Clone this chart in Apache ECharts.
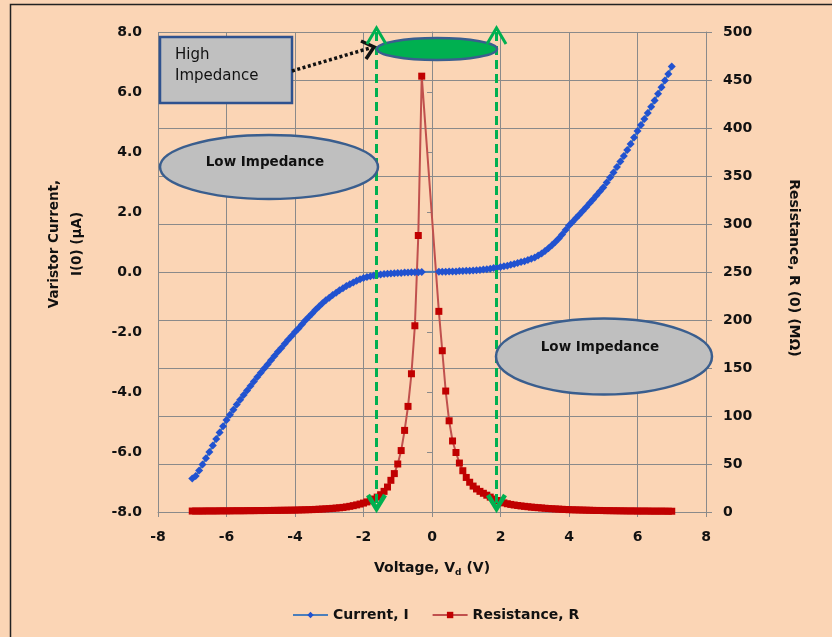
<!DOCTYPE html>
<html><head><meta charset="utf-8">
<script src="https://cdn.jsdelivr.net/npm/echarts@6/dist/echarts.min.js"></script>
<style>html,body{margin:0;padding:0;background:#FBD5B5}#c{width:832px;height:637px}</style>
</head><body><div id="c"></div>
<script>
const voltage = [
-7.0,-6.9,-6.8,-6.7,-6.6,-6.5,-6.4,-6.3,-6.2,-6.1,-6.0,-5.9,-5.8,-5.7,-5.6,-5.5,-5.4,-5.3,-5.2,-5.1,
-5.0,-4.9,-4.8,-4.7,-4.6,-4.5,-4.4,-4.3,-4.2,-4.1,-4.0,-3.9,-3.8,-3.7,-3.6,-3.5,-3.4,-3.3,-3.2,-3.1,
-3.0,-2.9,-2.8,-2.7,-2.6,-2.5,-2.4,-2.3,-2.2,-2.1,-2.0,-1.9,-1.8,-1.7,-1.6,-1.5,-1.4,-1.3,-1.2,-1.1,
-1.0,-0.9,-0.8,-0.7,-0.6,-0.5,-0.4,-0.3,
0.2,0.3,0.4,0.5,0.6,0.7,0.8,0.9,1.0,1.1,1.2,1.3,1.4,1.5,1.6,1.7,1.8,1.9,2.0,2.1,2.2,2.3,2.4,2.5,
2.6,2.7,2.8,2.9,3.0,3.1,3.2,3.3,3.4,3.5,3.6,3.7,3.8,3.9,4.0,4.1,4.2,4.3,4.4,4.5,4.6,4.7,4.8,4.9,
5.0,5.1,5.2,5.3,5.4,5.5,5.6,5.7,5.8,5.9,6.0,6.1,6.2,6.3,6.4,6.5,6.6,6.7,6.8,6.9,7.0];
const current = [
-6.88,-6.80,-6.62,-6.42,-6.21,-6.00,-5.78,-5.57,-5.35,-5.14,-4.93,-4.76,-4.59,-4.42,-4.26,-4.10,-3.95,-3.80,-3.65,-3.50,
-3.36,-3.22,-3.08,-2.94,-2.80,-2.66,-2.53,-2.39,-2.26,-2.13,-2.00,-1.88,-1.75,-1.62,-1.50,-1.38,-1.26,-1.15,-1.04,-0.94,
-0.86,-0.77,-0.69,-0.61,-0.54,-0.47,-0.41,-0.35,-0.29,-0.24,-0.20,-0.17,-0.14,-0.12,-0.10,-0.08,-0.07,-0.06,-0.05,-0.04,
-0.03,-0.03,-0.02,-0.02,-0.01,-0.01,-0.01,0.00,
0.01,0.01,0.01,0.02,0.02,0.02,0.03,0.03,0.04,0.04,0.05,0.06,0.07,0.08,0.09,0.11,0.13,0.15,0.17,0.19,0.21,0.24,0.27,0.30,
0.33,0.36,0.40,0.44,0.48,0.55,0.62,0.70,0.79,0.89,1.00,1.12,1.25,1.40,1.55,1.67,1.79,1.91,2.03,2.16,2.29,2.42,2.55,2.68,
2.82,2.98,3.15,3.32,3.50,3.68,3.87,4.07,4.27,4.48,4.70,4.90,5.10,5.30,5.51,5.72,5.94,6.16,6.38,6.60,6.85];
const resistance = [
1.0,1.0,1.0,1.0,1.1,1.1,1.1,1.1,1.2,1.2,1.2,1.2,1.3,1.3,1.3,1.3,1.4,1.4,1.4,1.5,
1.5,1.5,1.6,1.6,1.7,1.7,1.8,1.8,1.9,1.9,2.0,2.1,2.2,2.3,2.4,2.5,2.7,2.9,3.1,3.3,
3.5,3.8,4.1,4.4,4.8,5.3,5.9,6.6,7.4,8.3,9.3,10.5,11.8,13.5,15.5,18,21.5,26,33,40,
50,64,85,110,144,194,288,454,
209,168,126,95,74,62,51,43,36,31,27,24,21.5,19.5,17.5,15.5,13.5,12,10.5,9.5,8.6,7.9,7.3,6.8,
6.3,5.9,5.5,5.1,4.8,4.5,4.2,3.9,3.6,3.4,3.2,3.0,2.8,2.6,2.4,2.3,2.2,2.1,2.0,1.9,1.8,1.7,1.6,1.6,
1.5,1.4,1.4,1.3,1.3,1.2,1.2,1.1,1.1,1.1,1.0,1.0,1.0,1.0,0.9,0.9,0.9,0.9,0.9,0.8,0.8];

const FONT = 'DejaVu Sans';
const GRID = '#8A8A8A';
const lbl = {fontFamily: FONT, fontWeight: 'bold', fontSize: 14, color: '#111'};

const chart = echarts.init(document.getElementById('c'), null, {renderer: 'canvas'});
const green = '#00B050';
const ellStroke = '#3A5E8E';

function gline(x) {
  return [
    {type: 'line', z: 100, shape: {x1: x, y1: 32, x2: x, y2: 506}, style: {stroke: green, lineWidth: 3, lineDash: [9, 5]}},
    {type: 'polyline', z: 102, shape: {points: [[x - 9.5, 44], [x, 28], [x + 9.5, 44]]}, style: {stroke: green, lineWidth: 3, fill: null}},
    {type: 'polyline', z: 102, shape: {points: [[x - 8.5, 495], [x, 509], [x + 8.5, 495]]}, style: {stroke: green, lineWidth: 4.5, fill: null}}
  ];
}

chart.setOption({
  animation: false,
  backgroundColor: '#FBD5B5',
  grid: {left: 158, right: 126, top: 32, bottom: 125, containLabel: false},
  legend: {
    left: 287, top: 603, itemWidth: 35, itemHeight: 8, itemGap: 23,
    textStyle: {fontFamily: FONT, fontWeight: 'bold', fontSize: 14, color: '#111'},
    data: ['Current, I', 'Resistance, R']
  },
  xAxis: {
    type: 'value', min: -8, max: 8, interval: 2,
    axisLine: {show: true, onZero: false, lineStyle: {color: GRID, width: 1}},
    axisTick: {show: true, inside: false, length: 5, lineStyle: {color: GRID}},
    splitLine: {show: true, lineStyle: {color: GRID, width: 1}},
    axisLabel: Object.assign({margin: 18}, lbl),
    name: '{n|Voltage, V}{s|d}{n| (V)}',
    nameLocation: 'middle', nameGap: 48,
    nameTextStyle: {
      rich: {
        n: {fontFamily: FONT, fontWeight: 'bold', fontSize: 14, color: '#111'},
        s: {fontFamily: FONT, fontWeight: 'bold', fontSize: 9, color: '#111', padding: [8, 0, 0, 0]}
      }
    }
  },
  yAxis: [
    {
      type: 'value', min: -8, max: 8, interval: 2, position: 'left',
      axisLine: {show: true, lineStyle: {color: GRID}},
      axisTick: {show: true, length: 5, lineStyle: {color: GRID}},
      splitLine: {show: false},
      axisLabel: Object.assign({margin: 16, formatter: v => v.toFixed(1)}, lbl)
    },
    {
      type: 'value', min: 0, max: 500, interval: 50, position: 'right',
      axisLine: {show: true, lineStyle: {color: GRID}},
      axisTick: {show: true, length: 6, lineStyle: {color: GRID}},
      splitLine: {show: true, lineStyle: {color: GRID, width: 1}},
      axisLabel: Object.assign({margin: 17}, lbl)
    }
  ],
  series: [
    {
      name: 'Current, I', type: 'line', yAxisIndex: 0,
      data: voltage.map((v, i) => [v, current[i]]),
      symbol: 'diamond', symbolSize: 8, showAllSymbol: true,
      lineStyle: {color: '#4A7EBB', width: 2},
      itemStyle: {color: '#2152D0'}
    },
    {
      name: 'Resistance, R', type: 'line', yAxisIndex: 1,
      data: voltage.map((v, i) => [v, resistance[i]]),
      symbol: 'rect', symbolSize: 7, showAllSymbol: true,
      lineStyle: {color: '#C0504D', width: 2},
      itemStyle: {color: '#C00000'}
    }
  ],
  graphic: [
    {type: 'polyline', z: 120, shape: {points: [[10.5, 640], [10.5, 4.5], [840, 4.5]]}, style: {stroke: '#222', lineWidth: 1.5, fill: null}},
    {type: 'text', z: 100, x: 66, y: 244, rotation: Math.PI / 2,
      style: {text: 'Varistor Current,\nI(0) (µA)', fontFamily: FONT, fontWeight: 'bold', fontSize: 13.5, lineHeight: 23, fill: '#111', align: 'center', verticalAlign: 'middle'}},
    {type: 'text', z: 100, x: 794, y: 268, rotation: -Math.PI / 2,
      style: {text: 'Resistance, R (0) (MΩ)', fontFamily: FONT, fontWeight: 'bold', fontSize: 14, fill: '#111', align: 'center', verticalAlign: 'middle'}},
    ...gline(376.5),
    ...gline(496.5),
    {type: 'ellipse', z: 101, shape: {cx: 437, cy: 49, rx: 60, ry: 11}, style: {fill: green, stroke: ellStroke, lineWidth: 2.5}},
    {type: 'rect', z: 101, shape: {x: 160, y: 37, width: 132, height: 66}, style: {fill: '#C0C0C0', stroke: '#2F528F', lineWidth: 2.5}},
    {type: 'text', z: 102, x: 175, y: 66, style: {text: 'High\nImpedance', fontFamily: FONT, fontSize: 15, lineHeight: 21, fill: '#111', align: 'left', verticalAlign: 'middle'}},
    {type: 'line', z: 101, shape: {x1: 292, y1: 71, x2: 370, y2: 48}, style: {stroke: '#111', lineWidth: 3.5, lineDash: [3, 2.5]}},
    {type: 'polyline', z: 101, shape: {points: [[361, 41], [374, 47], [366, 59]]}, style: {stroke: '#111', lineWidth: 3.5, fill: null}},
    {type: 'ellipse', z: 101, shape: {cx: 269, cy: 167, rx: 109, ry: 32}, style: {fill: '#BFBFBF', stroke: ellStroke, lineWidth: 2.5}},
    {type: 'text', z: 102, x: 265, y: 162, style: {text: 'Low Impedance', fontFamily: FONT, fontWeight: 'bold', fontSize: 13.5, fill: '#111', align: 'center', verticalAlign: 'middle'}},
    {type: 'ellipse', z: 101, shape: {cx: 604, cy: 356.5, rx: 108, ry: 38}, style: {fill: '#BFBFBF', stroke: ellStroke, lineWidth: 2.5}},
    {type: 'text', z: 102, x: 600, y: 347, style: {text: 'Low Impedance', fontFamily: FONT, fontWeight: 'bold', fontSize: 13.5, fill: '#111', align: 'center', verticalAlign: 'middle'}}
  ]
});
</script>
</body></html>
